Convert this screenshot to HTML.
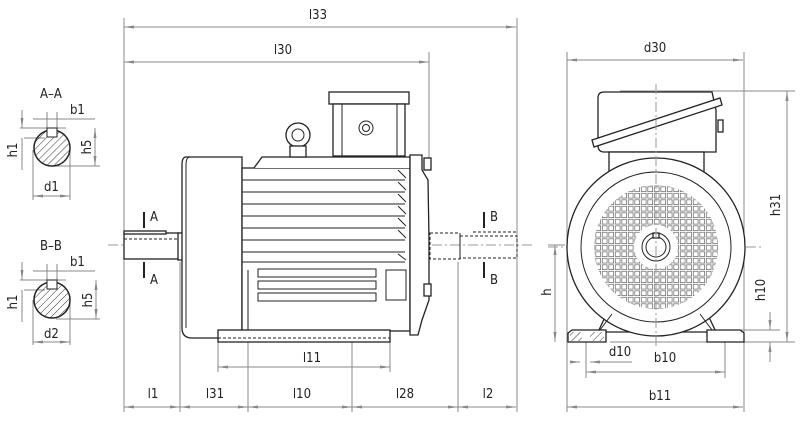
<!DOCTYPE html>
<html><head><meta charset="utf-8"><style>
html,body{margin:0;padding:0;background:#fff}
svg{display:block}
text{font-family:"DejaVu Sans Condensed","Liberation Sans",sans-serif;font-size:13px;fill:#222}
.d{stroke:#888;stroke-width:1;fill:none}
.o{stroke:#222;stroke-width:1.3;fill:#fff}
.t{stroke:#222;stroke-width:1;fill:none}
.c{stroke:#999;stroke-width:1;stroke-dasharray:10,3,2,3;fill:none}
.h{stroke:#222;stroke-width:1;stroke-dasharray:3,2;fill:none}
</style></head><body>
<svg width="800" height="423" viewBox="0 0 800 423" xmlns="http://www.w3.org/2000/svg">
<defs>
<marker id="a" markerWidth="10" markerHeight="6" refX="10" refY="3" orient="auto-start-reverse"><path d="M0,1.5 L10,3 L0,4.5z" fill="#888"/></marker>
<pattern id="hp" width="5" height="5" patternUnits="userSpaceOnUse" patternTransform="rotate(45)"><line x1="0" y1="0" x2="0" y2="5" stroke="#333" stroke-width="1"/></pattern>
<pattern id="sq" x="595" y="186" width="6.5" height="6.5" patternUnits="userSpaceOnUse"><rect x="0.8" y="0.8" width="4.8" height="4.8" fill="none" stroke="#777" stroke-width="0.8"/></pattern>
<clipPath id="gc"><circle cx="656" cy="247" r="62"/></clipPath>
</defs>

<!-- extension lines -->
<g class="d">
<line x1="124" y1="18" x2="124" y2="412"/>
<line x1="517" y1="18" x2="517" y2="412"/>
<line x1="429" y1="52" x2="429" y2="158"/>
<line x1="180" y1="262" x2="180" y2="412"/>
<line x1="248" y1="342" x2="248" y2="412"/>
<line x1="352" y1="342" x2="352" y2="412"/>
<line x1="458" y1="262" x2="458" y2="412"/>
<line x1="218" y1="342" x2="218" y2="372"/>
<line x1="390" y1="342" x2="390" y2="372"/>
<line x1="567" y1="52" x2="567" y2="412"/>
<line x1="744" y1="52" x2="744" y2="412"/>
<line x1="620" y1="91" x2="795" y2="91"/>
<line x1="610" y1="342" x2="795" y2="342"/>
<line x1="730" y1="330" x2="780" y2="330"/>
<line x1="548" y1="245" x2="565" y2="245"/>
<line x1="586" y1="342" x2="586" y2="378"/>
<line x1="725" y1="342" x2="725" y2="378"/>
</g>
<!-- dimension lines -->
<g class="d">
<line x1="124" y1="27" x2="516" y2="27" marker-start="url(#a)" marker-end="url(#a)"/>
<line x1="124" y1="62" x2="429" y2="62" marker-start="url(#a)" marker-end="url(#a)"/>
<line x1="124" y1="407" x2="180" y2="407" marker-start="url(#a)" marker-end="url(#a)"/>
<line x1="180" y1="407" x2="248" y2="407" marker-start="url(#a)" marker-end="url(#a)"/>
<line x1="248" y1="407" x2="352" y2="407" marker-start="url(#a)" marker-end="url(#a)"/>
<line x1="352" y1="407" x2="458" y2="407" marker-start="url(#a)" marker-end="url(#a)"/>
<line x1="458" y1="407" x2="516" y2="407" marker-start="url(#a)" marker-end="url(#a)"/>
<line x1="218" y1="367" x2="390" y2="367" marker-start="url(#a)" marker-end="url(#a)"/>
<line x1="567" y1="60" x2="743" y2="60" marker-start="url(#a)" marker-end="url(#a)"/>
<line x1="567" y1="407" x2="743" y2="407" marker-start="url(#a)" marker-end="url(#a)"/>
<line x1="586" y1="372" x2="725" y2="372" marker-start="url(#a)" marker-end="url(#a)"/>
<line x1="570" y1="362" x2="580" y2="362" marker-end="url(#a)"/>
<line x1="600" y1="362" x2="632" y2="362"/>
<line x1="600" y1="362" x2="590" y2="362" marker-end="url(#a)"/>
<line x1="787" y1="91" x2="787" y2="342" marker-start="url(#a)" marker-end="url(#a)"/>
<line x1="555" y1="245" x2="555" y2="342" marker-start="url(#a)" marker-end="url(#a)"/>
<line x1="770" y1="312" x2="770" y2="330" marker-end="url(#a)"/>
<line x1="770" y1="362" x2="770" y2="342" marker-end="url(#a)"/>
</g>

<!-- center lines -->
<line class="c" x1="108" y1="245" x2="535" y2="245"/>
<line class="c" x1="548" y1="247" x2="762" y2="247"/>

<!-- left shaft -->
<rect class="o" x="124" y="233" width="55" height="26"/>
<line class="h" x1="124" y1="239" x2="178" y2="239"/>
<rect class="o" x="124" y="231" width="42" height="3"/>
<rect class="o" x="178" y="233" width="5" height="27"/>
<!-- fan cover -->
<path class="o" d="M186,157 Q182,157 182,165 L182,328 Q182,338 192,338 L242,338 L242,157 Z"/>
<path class="t" d="M190,157 Q186,157 186,165 L186,328"/>
<!-- body -->
<rect class="o" x="242" y="168" width="168" height="163"/>
<path class="o" d="M254,168 L262,157 L410,157 L410,168"/>
<g class="t">
<line x1="242" y1="180" x2="405" y2="180"/><line x1="242" y1="192" x2="405" y2="192"/>
<line x1="242" y1="204" x2="405" y2="204"/><line x1="242" y1="216" x2="405" y2="216"/>
<line x1="242" y1="228" x2="405" y2="228"/><line x1="242" y1="240" x2="405" y2="240"/>
<line x1="242" y1="252" x2="405" y2="252"/><line x1="242" y1="262" x2="405" y2="262"/>
<path d="M398,170 L406,178 M398,182 L406,190 M398,194 L406,202 M398,206 L406,214 M398,218 L406,226 M398,230 L406,238 M398,254 L406,260"/>
<rect x="258" y="269" width="118" height="8"/><rect x="258" y="281" width="118" height="8"/><rect x="258" y="293" width="118" height="8"/>
<rect x="386" y="270" width="20" height="30"/>
<line x1="248" y1="270" x2="248" y2="331"/>
</g>
<!-- base -->
<rect class="o" x="218" y="330" width="172" height="12"/>
<line class="h" x1="218" y1="338" x2="390" y2="338"/>
<!-- terminal box -->
<rect class="o" x="329" y="92" width="80" height="12"/>
<rect class="o" x="333" y="104" width="72" height="52"/>
<rect class="t" x="342" y="104" width="55" height="52"/>
<circle class="t" cx="366" cy="128" r="7"/><circle class="t" cx="366" cy="128" r="3.5"/>
<!-- eyebolt -->
<circle class="o" cx="298" cy="135" r="12"/><circle class="t" cx="298" cy="135" r="6"/>
<rect class="o" x="290" y="146" width="16" height="11"/>
<!-- right flange -->
<path class="o" d="M410,155 L422,155 L422,170 L428,180 L429,240 L429,300 L422,320 L418,335 L410,335 Z"/>
<rect class="o" x="424" y="158" width="7" height="12"/><rect class="o" x="424" y="284" width="7" height="12"/>
<!-- right shaft dashed -->
<rect class="h" x="430" y="233" width="30" height="26"/>
<rect class="h" x="460" y="236" width="57" height="22"/>
<line class="h" x1="473" y1="232" x2="517" y2="232"/>
<!-- section marks -->
<g stroke="#222" stroke-width="2"><line x1="144" y1="212" x2="144" y2="228"/><line x1="144" y1="262" x2="144" y2="278"/><line x1="484" y1="212" x2="484" y2="228"/><line x1="484" y1="262" x2="484" y2="278"/></g>
<text x="150" y="221">A</text><text x="150" y="284">A</text>
<text x="490" y="221">B</text><text x="490" y="284">B</text>

<!-- labels -->
<text x="318" y="19" text-anchor="middle">l33</text>
<text x="283" y="54" text-anchor="middle">l30</text>
<text x="153" y="398" text-anchor="middle">l1</text>
<text x="215" y="398" text-anchor="middle">l31</text>
<text x="302" y="398" text-anchor="middle">l10</text>
<text x="405" y="398" text-anchor="middle">l28</text>
<text x="488" y="398" text-anchor="middle">l2</text>
<text x="312" y="362" text-anchor="middle">l11</text>
<text x="655" y="52" text-anchor="middle">d30</text>
<text x="660" y="400" text-anchor="middle">b11</text>
<text x="665" y="362" text-anchor="middle">b10</text>
<text x="620" y="356" text-anchor="middle">d10</text>
<text transform="translate(780,205) rotate(-90)" text-anchor="middle">h31</text>
<text transform="translate(765,290) rotate(-90)" text-anchor="middle">h10</text>
<text transform="translate(551,292) rotate(-90)" text-anchor="middle">h</text>

<!-- end view -->
<path class="o" d="M604,92 L712,92 L716,110 L716,152 L604,152 Q598,152 598,145 L598,98 Q598,92 604,92Z"/>
<path class="o" d="M592,140 L720,98 L722,105 L594,147 Z"/>
<rect class="o" x="718" y="120" width="5" height="12"/>
<rect class="o" x="609" y="152" width="95" height="20"/>
<path class="o" d="M598,332 L606,315 L708,315 L716,332 Z"/>
<circle class="o" cx="656" cy="247" r="89"/>
<circle class="t" cx="656" cy="247" r="75"/>
<rect x="590" y="180" width="135" height="135" fill="url(#sq)" clip-path="url(#gc)"/>
<circle cx="656" cy="247" r="22" fill="#fff"/>
<circle class="t" cx="656" cy="247" r="14"/><circle class="t" cx="656" cy="247" r="10"/>
<rect class="o" x="653" y="233" width="6" height="5"/>
<line class="c" x1="656" y1="84" x2="656" y2="346"/>
<!-- feet -->
<path class="o" d="M568,333 L572,330 L606,330 L606,342 L568,342 Z"/>
<rect x="570" y="332" width="12" height="9" fill="url(#hp)"/><rect x="590" y="332" width="14" height="9" fill="url(#hp)"/>
<path class="o" d="M707,330 L740,330 L744,333 L744,342 L707,342 Z"/>
<path class="t" d="M600,330 L612,314 M712,330 L700,314"/>

<!-- section A-A -->
<text x="40" y="98">A–A</text>
<text x="70" y="114">b1</text>
<g class="d">
<line x1="33" y1="119" x2="95" y2="119"/>
<line x1="20" y1="128" x2="66" y2="128"/><line x1="24" y1="138" x2="45" y2="138"/>
<line x1="56" y1="166" x2="100" y2="166"/>
<line x1="22" y1="110" x2="22" y2="128" marker-end="url(#a)"/><line x1="22" y1="170" x2="22" y2="138"/>
<line x1="95" y1="128" x2="95" y2="166" marker-start="url(#a)" marker-end="url(#a)"/>
<line x1="33" y1="150" x2="33" y2="200"/><line x1="70" y1="150" x2="70" y2="200"/>
<line x1="33" y1="196" x2="70" y2="196" marker-start="url(#a)" marker-end="url(#a)"/>
<line x1="47" y1="112" x2="47" y2="128"/><line x1="57" y1="112" x2="57" y2="128"/>
</g>
<circle cx="52" cy="148" r="18" fill="url(#hp)" stroke="#222" stroke-width="1.5"/>
<rect x="47" y="128" width="10" height="9" fill="#fff" stroke="#222"/>
<text transform="translate(17,150) rotate(-90)" text-anchor="middle">h1</text>
<text transform="translate(91,147) rotate(-90)" text-anchor="middle">h5</text>
<text x="44" y="191">d1</text>

<!-- section B-B -->
<text x="40" y="250">B–B</text>
<text x="70" y="266">b1</text>
<g class="d">
<line x1="33" y1="271" x2="95" y2="271"/>
<line x1="20" y1="280" x2="66" y2="280"/><line x1="24" y1="290" x2="45" y2="290"/>
<line x1="56" y1="319" x2="100" y2="319"/>
<line x1="22" y1="262" x2="22" y2="280" marker-end="url(#a)"/><line x1="22" y1="322" x2="22" y2="290"/>
<line x1="96" y1="280" x2="96" y2="319" marker-start="url(#a)" marker-end="url(#a)"/>
<line x1="33" y1="300" x2="33" y2="345"/><line x1="70" y1="300" x2="70" y2="345"/>
<line x1="33" y1="342" x2="70" y2="342" marker-start="url(#a)" marker-end="url(#a)"/>
<line x1="47" y1="264" x2="47" y2="280"/><line x1="57" y1="264" x2="57" y2="280"/>
</g>
<circle cx="52" cy="300" r="18" fill="url(#hp)" stroke="#222" stroke-width="1.5"/>
<rect x="47" y="280" width="10" height="9" fill="#fff" stroke="#222"/>
<text transform="translate(17,302) rotate(-90)" text-anchor="middle">h1</text>
<text transform="translate(92,300) rotate(-90)" text-anchor="middle">h5</text>
<text x="44" y="338">d2</text>
</svg>
</body></html>
